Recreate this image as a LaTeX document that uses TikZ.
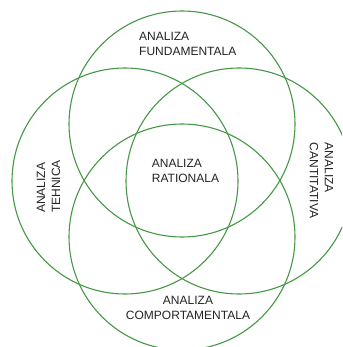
\documentclass[tikz,border=0pt]{standalone}
\usepackage{fontspec}
\setmainfont{Liberation Sans}
\definecolor{vennGreen}{RGB}{70,152,70}
\definecolor{labelGray}{RGB}{35,35,35}
\begin{document}
\begin{tikzpicture}[x=1pt,y=-1pt,
  ring/.style={draw=vennGreen,line width=1.1pt},
  lbl/.style={font=\fontsize{12}{15}\selectfont,text=labelGray,inner sep=0pt}]
\useasboundingbox (0,0) rectangle (342,347);
\clip (0,0) rectangle (342,347);
% the four circles
\draw[ring] (182,124) circle (113); % fundamentala
\draw[ring] (125,181) circle (113); % tehnica
\draw[ring] (239,181) circle (113); % cantitativa
\draw[ring] (182,237) circle (113); % comportamentala
% labels
\node[lbl,align=left,anchor=north west] (fund) at (139,31.7) {ANALIZA\\FUNDAMENTALA};
\node[lbl,align=left,anchor=north west] (rat) at (151.7,159.5) {ANALIZA\\RATIONALA};
\node[lbl,align=center,anchor=north] (comp) at (188,296) {ANALIZA\\COMPORTAMENTALA};
% rotated side labels
\node[lbl,align=left,anchor=north west,rotate=90] (tehn) at (36.7,213) {ANALIZA\\TEHNICA};
\node[lbl,align=left,anchor=north west,rotate=-90] (cant) at (333.3,142.7) {ANALIZA\\CANTITATIVA};
\end{tikzpicture}
\end{document}
